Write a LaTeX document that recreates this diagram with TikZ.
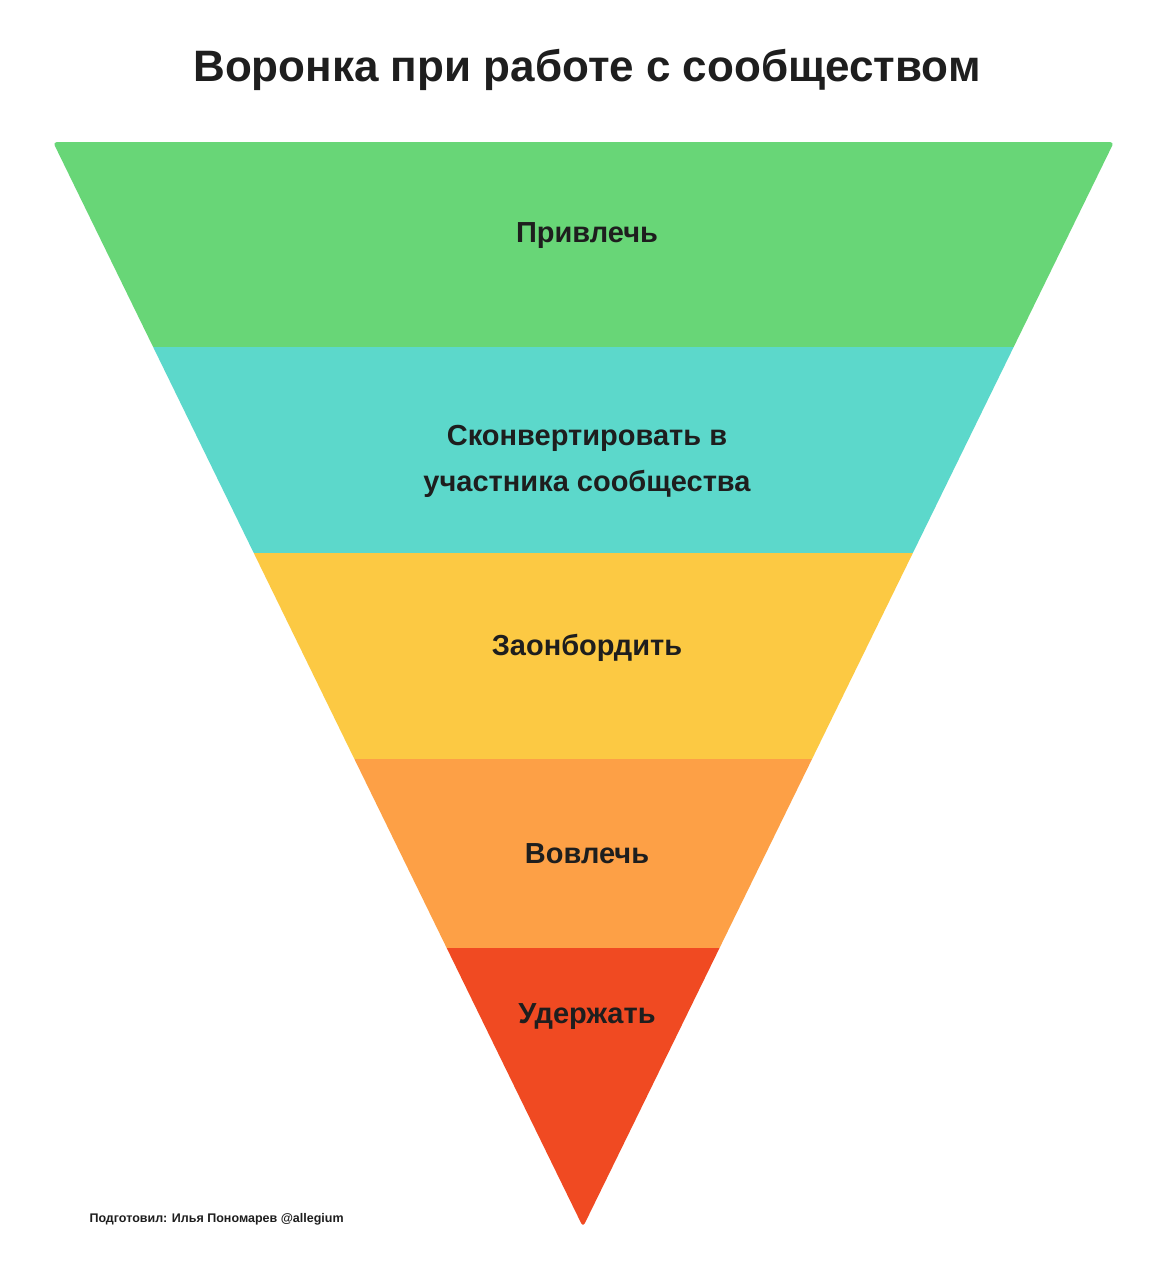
\documentclass[tikz,border=0pt]{standalone}
\usepackage{fontspec}
\setmainfont{Liberation Sans}
\definecolor{cgreen}{HTML}{68D677}
\definecolor{cteal}{HTML}{5CD8CB}
\definecolor{cyellow}{HTML}{FCC943}
\definecolor{corange}{HTML}{FDA046}
\definecolor{cred}{HTML}{F04A22}
\definecolor{ink}{HTML}{1E1E1E}
\tikzset{lbl/.style={font=\bfseries\fontsize{29}{46}\selectfont, text=ink, align=center}}
\begin{document}
\begin{tikzpicture}[x=1pt,y=-1pt]
\useasboundingbox (0,0) rectangle (1167,1280);
\fill[white] (0,0) rectangle (1167,1280);
\node[font=\bfseries\fontsize{44}{50}\selectfont,text=ink] (title) at (587,70) {Воронка при работе с сообществом};
\begin{scope}
\clip[rounded corners=4pt] (53,142) -- (1114,142) -- (583,1227) -- cycle;
\fill[cgreen] (0,130) rectangle (1167,347);
\fill[cteal] (0,347) rectangle (1167,553);
\fill[cyellow] (0,553) rectangle (1167,759);
\fill[corange] (0,759) rectangle (1167,948);
\fill[cred] (0,948) rectangle (1167,1240);
\end{scope}
\node[lbl] (a) at (587,236) {Привлечь};
\node[lbl] (b) at (587,461) {Сконвертировать в\\участника сообщества};
\node[lbl] (c) at (587,648) {Заонбордить};
\node[lbl] (d) at (587,854) {Вовлечь};
\node[lbl] (e) at (587,1017) {Удержать};
\node[font=\bfseries\fontsize{12.5}{14}\selectfont,text=ink,anchor=west] (foot) at (86,1219) {Подготовил: Илья Пономарев @allegium};
\end{tikzpicture}
\end{document}
